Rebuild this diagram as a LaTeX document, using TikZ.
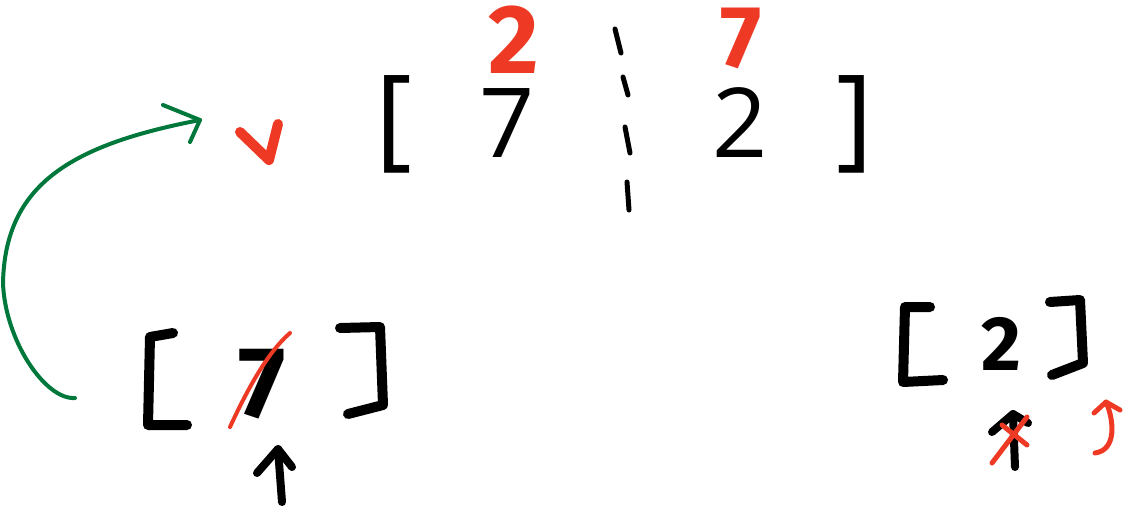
\documentclass[tikz,border=0pt]{standalone}
\usepackage{fontspec}
\setmainfont{Open Sans}
\newfontfamily\hand{Fira Sans}
\definecolor{inkred}{HTML}{EE3A24}
\definecolor{inkgreen}{HTML}{00773B}
\begin{document}
\begin{tikzpicture}[x=1pt,y=-1pt,
  hw/.style={line width=#1,line cap=round,line join=round},
  printed/.style={anchor=base,inner sep=0pt,font=\fontsize{96.6}{100}\selectfont},
  bracket/.style={anchor=base,inner sep=0pt,font=\fontsize{112}{112}\selectfont},
  handtxt/.style={anchor=base,inner sep=0pt,font=\hand\bfseries\fontsize{#1}{#1}\selectfont}]
\useasboundingbox (0,0) rectangle (1131,512);
% printed array
\node[bracket] (lb) at (394,155) {[};
\node[printed] (a7) at (507,157) {7};
\node[printed] (a2) at (740,157) {2};
\node[bracket] (rb) at (855,155) {]};
% dashed divider
\draw[hw=5] (615,29) -- (621,53);
\draw[hw=5] (623,77) -- (628,95);
\draw[hw=5] (625,127) -- (630,153);
\draw[hw=5] (627,182) -- (629,210);
% red handwritten digits on top
\node[handtxt=98,text=inkred] (r2) at (514,73) {2};
\node[handtxt=88,text=inkred] (r7) at (741,67) {7};
% red check mark
\draw[inkred,hw=10] (240,132) -- (269,160) -- (278,124);
% left sub-array [7]
\draw[hw=10] (173,333) -- (150,337) -- (148,425) -- (187,425);
\draw[hw=10] (340,328) -- (380,327) -- (383,405) -- (348,414);
\node[handtxt=101,text=black] (b7) at (262,417) {7};
\draw[inkred,hw=4] (230,427) .. controls (248,388) and (268,352) .. (290,333);
\coordinate (p7) at (282,502);
\coordinate (p7t) at (278,449);
\draw[hw=8] (p7) -- (p7t);
\draw[hw=8] (257,473) -- (p7t) -- (292,467);
% green arrow
\coordinate (g1) at (75,398);
\coordinate (g2) at (200,120);
\draw[inkgreen,hw=4] (g1) .. controls (45,400) and (5,340) .. (3,283)
  .. controls (5,185) and (70,145) .. (g2);
\draw[inkgreen,hw=4] (163,105) -- (g2) -- (190,142);
% right sub-array [2]
\draw[hw=10] (930,307) -- (905,307) -- (903,382) -- (943,380);
\draw[hw=10] (1050,302) -- (1080,300) -- (1083,363) -- (1052,375);
\node[handtxt=77,text=black] (b2) at (1001,370) {2};
\coordinate (p2) at (1015,467);
\coordinate (p2t) at (1013,414);
\draw[hw=8] (p2) -- (p2t);
\draw[hw=8] (992,432) -- (p2t) -- (1028,423);
\draw[inkred,hw=5] (992,463) -- (1027,417);
\draw[inkred,hw=5] (1002,425) -- (1027,445);
\coordinate (h1) at (1095,453);
\coordinate (h2) at (1106,402);
\draw[inkred,hw=5] (h1) .. controls (1117,450) and (1114,420) .. (h2);
\draw[inkred,hw=5] (1094,413) -- (h2) -- (1120,410);
\end{tikzpicture}
\end{document}
